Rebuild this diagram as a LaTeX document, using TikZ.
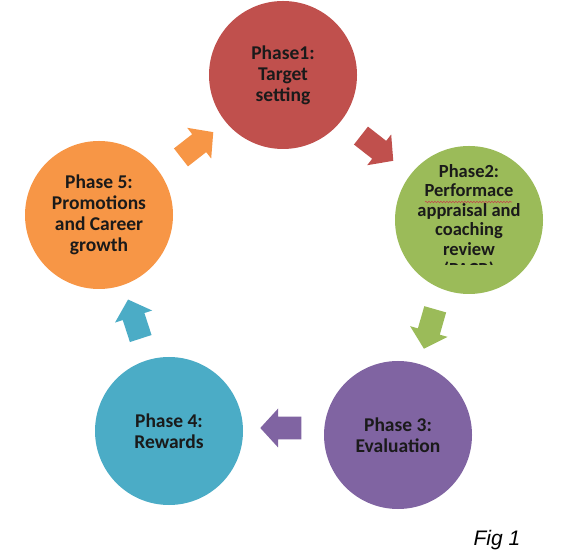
\documentclass[tikz,border=0pt]{standalone}
\usepackage{fontspec}
\setmainfont{Carlito}
\newfontfamily\arialfont{Liberation Sans}
\usetikzlibrary{shapes.arrows,decorations.pathmorphing}
\definecolor{cred}{HTML}{C0504D}
\definecolor{cgreen}{HTML}{9BBB59}
\definecolor{cpurple}{HTML}{8064A2}
\definecolor{cblue}{HTML}{4BACC6}
\definecolor{corange}{HTML}{F79646}
\definecolor{ctext}{HTML}{1A1A1A}
\tikzset{
  phase/.style={circle, minimum size=148pt, inner sep=0pt, draw=none},
  lbl/.style={align=center, text=ctext, font=\fontsize{19.5}{21}\selectfont\bfseries, inner sep=0pt},
  lblsmall/.style={lbl, font=\fontsize{18.5}{19.6}\selectfont\bfseries},
  arr/.style={single arrow, draw=none, inner sep=0pt, text height=22pt, text depth=0pt,
    minimum height=41pt, minimum width=39pt, single arrow head extend=8pt,
    single arrow tip angle=95, single arrow head indent=0pt}
}
\begin{document}
\begin{tikzpicture}[x=1pt,y=1pt]
\useasboundingbox[fill=white] (0,0) rectangle (569,556);
% circles
\node[phase, fill=cred] (p1) at (283,481) {};
\node[phase, fill=cgreen] (p2) at (469,336) {};
\node[phase, fill=cpurple] (p3) at (398,121) {};
\node[phase, fill=cblue] (p4) at (169,125) {};
\node[phase, fill=corange] (p5) at (99,341) {};
% arrows
\node[arr, fill=cred, rotate=-38] (a1) at (373,411) {};
\node[arr, fill=cgreen, rotate=-106] (a2) at (431,232) {};
\node[arr, fill=cpurple, rotate=180] (a3) at (286,128) {};
\node[arr, fill=cblue, rotate=108] (a4) at (136,232) {};
\node[arr, fill=corange, rotate=38] (a5) at (193,408) {};
% labels
\node[lbl] (t1) at (p1) {Phase1:\\Target\\setting};
\begin{scope}
  \clip (380,291.5) rectangle (560,420);
  \node[lblsmall] (t2) at (469,335) {Phase2:\\Performace\\appraisal and\\coaching\\review\\(PACR)};
\end{scope}
\coordinate (w1) at (425,354);
\coordinate (w2) at (512,354);
\draw[cred, line width=0.6pt, decorate, decoration={snake, amplitude=0.8pt, segment length=3pt}] (w1) -- (w2);
\node[lbl] (t3) at (p3) {Phase 3:\\Evaluation};
\node[lbl] (t4) at (p4) {Phase 4:\\Rewards};
\node[lbl] (t5) at (p5) {Phase 5:\\Promotions\\and Career\\growth};
\node[font=\arialfont\itshape\fontsize{21}{24}\selectfont, text=black, inner sep=0pt] (fig) at (497,16) {Fig 1};
\end{tikzpicture}
\end{document}
